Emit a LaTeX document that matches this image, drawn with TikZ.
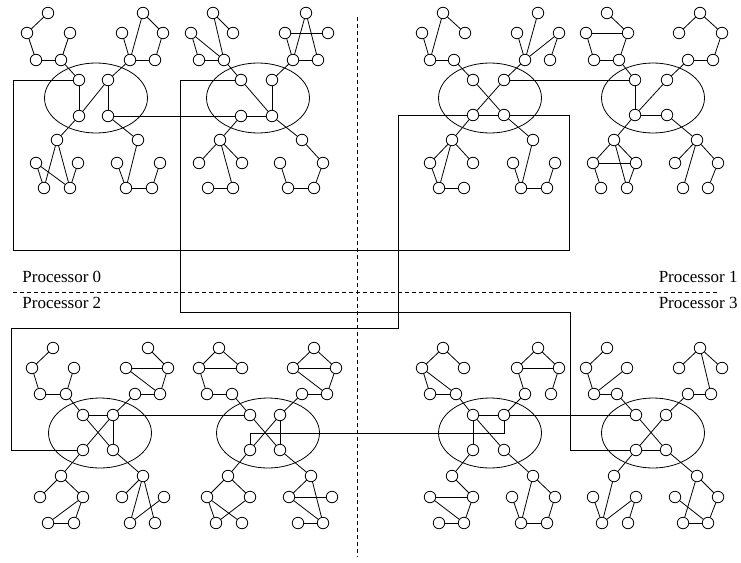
\documentclass[tikz,border=0pt]{standalone}
\usepackage{fontspec}
\setmainfont{Liberation Serif}
\usetikzlibrary{shapes.geometric}
\newcommand{\vx}[2]{\node[vtx] (#1) at (#2) {};}
\begin{document}
\begin{tikzpicture}[x=1pt,y=-1pt,line width=0.8pt,
  vtx/.style={circle,draw,fill=white,minimum size=11.5pt,inner sep=0pt},
  grp/.style={ellipse,draw,minimum width=103pt,minimum height=70pt,inner sep=0pt},
  sep/.style={dash pattern=on 4pt off 3pt},
  lbl/.style={font=\fontsize{17}{20}\selectfont,inner sep=0pt}]
\useasboundingbox (0,0) rectangle (741,562);
% ellipses
\node[grp] (e1) at (96,98) {};
\node[grp] (e2) at (258,98) {};
\node[grp] (e3) at (490,98) {};
\node[grp] (e4) at (653,98) {};
\node[grp] (e5) at (100,433) {};
\node[grp] (e6) at (268,433) {};
\node[grp] (e7) at (490,433) {};
\node[grp] (e8) at (653,433) {};
% ---------------- cluster 1
\vx{1A}{79,80}\vx{1B}{108,80}\vx{1C}{79,116}\vx{1D}{108,116}
\vx{1tl1}{48,13}\vx{1tl2}{27,33}\vx{1tl3}{70,33}\vx{1tl4}{36,60}\vx{1tl5}{61,60}
\vx{1tr1}{143,13}\vx{1tr2}{122,33}\vx{1tr3}{163,33}\vx{1tr4}{130,60}\vx{1tr5}{155,60}
\vx{1bl1}{57,140}\vx{1bl2}{36,163}\vx{1bl3}{78,163}\vx{1bl4}{44,188}\vx{1bl5}{70,188}
\vx{1br1}{138,140}\vx{1br2}{117,163}\vx{1br3}{160,163}\vx{1br4}{126,188}\vx{1br5}{152,188}
\foreach \a/\b in {1A/1C,1B/1C,1B/1D,
  1tl1/1tl2,1tl2/1tl4,1tl4/1tl5,1tl5/1tl3,1tl5/1A,
  1tr1/1tr4,1tr1/1tr3,1tr3/1tr5,1tr2/1tr4,1tr4/1tr5,1tr4/1B,
  1C/1bl1,1bl1/1bl4,1bl1/1bl5,1bl2/1bl4,1bl2/1bl5,1bl3/1bl5,
  1D/1br1,1br1/1br4,1br2/1br4,1br4/1br5,1br3/1br5}
  \draw (\a) -- (\b);
% ---------------- cluster 2
\vx{2A}{241,80}\vx{2B}{272,80}\vx{2C}{241,116}\vx{2D}{272,116}
\vx{2tl1}{213,13}\vx{2tl2}{191,33}\vx{2tl3}{233,33}\vx{2tl4}{199,60}\vx{2tl5}{224,60}
\vx{2tr1}{306,13}\vx{2tr2}{285,33}\vx{2tr3}{328,33}\vx{2tr4}{293,60}\vx{2tr5}{318,60}
\vx{2bl1}{220,140}\vx{2bl2}{199,163}\vx{2bl3}{242,163}\vx{2bl4}{208,188}\vx{2bl5}{233,188}
\vx{2br1}{302,140}\vx{2br2}{280,163}\vx{2br3}{323,163}\vx{2br4}{288,188}\vx{2br5}{314,188}
\foreach \a/\b in {2A/2D,2B/2D,2C/2D,
  2tl1/2tl3,2tl1/2tl5,2tl2/2tl5,2tl2/2tl4,2tl4/2tl5,2tl5/2A,
  2tr2/2tr3,2tr1/2tr4,2tr1/2tr5,2tr2/2tr4,2tr4/2tr5,2tr4/2B,
  2C/2bl1,2bl1/2bl2,2bl1/2bl3,2bl1/2bl5,2bl4/2bl5,
  2D/2br1,2br1/2br3,2br3/2br5,2br4/2br5,2br2/2br4}
  \draw (\a) -- (\b);
% ---------------- cluster 3
\vx{3A}{473,80}\vx{3B}{504,80}\vx{3C}{473,115}\vx{3D}{504,115}
\vx{3tl1}{443,13}\vx{3tl2}{422,33}\vx{3tl3}{465,33}\vx{3tl4}{430,60}\vx{3tl5}{454,60}
\vx{3tr1}{538,13}\vx{3tr2}{517,33}\vx{3tr3}{559,33}\vx{3tr4}{525,60}\vx{3tr5}{550,60}
\vx{3bl1}{452,140}\vx{3bl2}{430,163}\vx{3bl3}{473,163}\vx{3bl4}{439,188}\vx{3bl5}{464,188}
\vx{3br1}{533,140}\vx{3br2}{513,163}\vx{3br3}{555,163}\vx{3br4}{521,188}\vx{3br5}{547,188}
\foreach \a/\b in {3A/3D,3B/3C,3C/3D,
  3tl1/3tl3,3tl1/3tl4,3tl2/3tl4,3tl4/3tl5,3tl5/3A,
  3tr1/3tr4,3tr2/3tr4,3tr4/3tr3,3tr3/3tr5,3tr4/3B,
  3C/3bl1,3bl1/3bl2,3bl1/3bl3,3bl1/3bl4,3bl2/3bl4,3bl4/3bl5,
  3D/3br1,3br1/3br4,3br2/3br4,3br4/3br5,3br3/3br5}
  \draw (\a) -- (\b);
% ---------------- cluster 4
\vx{4A}{635,80}\vx{4B}{667,80}\vx{4C}{635,115}\vx{4D}{667,115}
\vx{4tl1}{607,13}\vx{4tl2}{586,33}\vx{4tl3}{628,33}\vx{4tl4}{594,60}\vx{4tl5}{619,60}
\vx{4tr1}{700,13}\vx{4tr2}{679,33}\vx{4tr3}{722,33}\vx{4tr4}{688,60}\vx{4tr5}{713,60}
\vx{4bl1}{614,140}\vx{4bl2}{593,163}\vx{4bl3}{636,163}\vx{4bl4}{601,188}\vx{4bl5}{627,188}
\vx{4br1}{697,140}\vx{4br2}{675,163}\vx{4br3}{718,163}\vx{4br4}{683,188}\vx{4br5}{708,188}
\foreach \a/\b in {4A/4C,4B/4C,4C/4D,
  4tl1/4tl3,4tl2/4tl3,4tl2/4tl4,4tl4/4tl5,4tl3/4tl5,4tl5/4A,
  4tr1/4tr2,4tr1/4tr3,4tr3/4tr5,4tr4/4tr5,4tr4/4B,
  4C/4bl1,4bl1/4bl2,4bl1/4bl3,4bl2/4bl3,4bl1/4bl5,4bl2/4bl4,4bl3/4bl5,
  4D/4br1,4br1/4br2,4br1/4br3,4br1/4br4,4br3/4br5}
  \draw (\a) -- (\b);
% ---------------- cluster 5
\vx{5A}{83,415}\vx{5B}{113,415}\vx{5C}{83,450}\vx{5D}{113,450}
\vx{5tl1}{53,348}\vx{5tl2}{32,368}\vx{5tl3}{74,368}\vx{5tl4}{40,394}\vx{5tl5}{66,394}
\vx{5tr1}{148,348}\vx{5tr2}{126,368}\vx{5tr3}{168,368}\vx{5tr4}{135,394}\vx{5tr5}{160,394}
\vx{5bl1}{61,476}\vx{5bl2}{40,497}\vx{5bl3}{83,497}\vx{5bl4}{48,523}\vx{5bl5}{74,523}
\vx{5br1}{143,476}\vx{5br2}{122,497}\vx{5br3}{164,497}\vx{5br4}{130,523}\vx{5br5}{155,523}
\foreach \a/\b in {5A/5B,5A/5D,5B/5C,5B/5D,
  5tl1/5tl2,5tl2/5tl4,5tl4/5tl5,5tl5/5tl3,5tl5/5A,
  5tr1/5tr3,5tr2/5tr3,5tr2/5tr5,5tr3/5tr5,5tr4/5tr5,5tr4/5B,
  5C/5bl1,5bl1/5bl2,5bl1/5bl3,5bl3/5bl4,5bl3/5bl5,5bl4/5bl5,
  5D/5br1,5br1/5br2,5br1/5br4,5br1/5br5,5br4/5br3}
  \draw (\a) -- (\b);
% ---------------- cluster 6
\vx{6A}{250,415}\vx{6B}{280,415}\vx{6C}{250,450}\vx{6D}{280,450}
\vx{6tl1}{219,348}\vx{6tl2}{199,368}\vx{6tl3}{242,368}\vx{6tl4}{207,394}\vx{6tl5}{232,394}
\vx{6tr1}{314,348}\vx{6tr2}{293,368}\vx{6tr3}{336,368}\vx{6tr4}{302,394}\vx{6tr5}{327,394}
\vx{6bl1}{228,476}\vx{6bl2}{207,497}\vx{6bl3}{250,497}\vx{6bl4}{216,523}\vx{6bl5}{242,523}
\vx{6br1}{311,476}\vx{6br2}{289,497}\vx{6br3}{332,497}\vx{6br4}{298,523}\vx{6br5}{323,523}
\foreach \a/\b in {6A/6D,6B/6C,6B/6D,
  6tl1/6tl2,6tl1/6tl3,6tl2/6tl3,6tl2/6tl4,6tl4/6tl5,6tl5/6A,
  6tr1/6tr2,6tr1/6tr3,6tr2/6tr3,6tr2/6tr5,6tr3/6tr5,6tr4/6tr5,6tr4/6B,
  6C/6bl1,6bl1/6bl2,6bl1/6bl3,6bl2/6bl4,6bl2/6bl5,6bl3/6bl4,
  6D/6br1,6br1/6br2,6br1/6br5,6br2/6br3,6br2/6br5,6br4/6br5}
  \draw (\a) -- (\b);
% ---------------- cluster 7
\vx{7A}{473,415}\vx{7B}{504,415}\vx{7C}{473,450}\vx{7D}{504,450}
\vx{7tl1}{443,348}\vx{7tl2}{422,368}\vx{7tl3}{464,368}\vx{7tl4}{430,394}\vx{7tl5}{456,394}
\vx{7tr1}{538,348}\vx{7tr2}{517,368}\vx{7tr3}{559,368}\vx{7tr4}{525,394}\vx{7tr5}{551,394}
\vx{7bl1}{452,476}\vx{7bl2}{430,497}\vx{7bl3}{473,497}\vx{7bl4}{439,523}\vx{7bl5}{464,523}
\vx{7br1}{533,476}\vx{7br2}{512,497}\vx{7br3}{555,497}\vx{7br4}{521,523}\vx{7br5}{547,523}
\foreach \a/\b in {7A/7B,7A/7C,7A/7D,
  7tl1/7tl2,7tl1/7tl3,7tl2/7tl4,7tl2/7tl5,7tl4/7tl5,7tl5/7A,
  7tr1/7tr2,7tr1/7tr3,7tr2/7tr3,7tr2/7tr4,7tr3/7tr5,7tr4/7B,
  7C/7bl1,7bl1/7bl3,7bl2/7bl3,7bl2/7bl5,7bl3/7bl5,7bl4/7bl5,
  7D/7br1,7br1/7br4,7br1/7br3,7br3/7br5,7br4/7br5,7br2/7br4}
  \draw (\a) -- (\b);
% ---------------- cluster 8
\vx{8A}{636,415}\vx{8B}{666,415}\vx{8C}{636,450}\vx{8D}{666,450}
\vx{8tl1}{607,348}\vx{8tl2}{586,368}\vx{8tl3}{627,368}\vx{8tl4}{594,394}\vx{8tl5}{617,394}
\vx{8tr1}{700,348}\vx{8tr2}{679,368}\vx{8tr3}{722,368}\vx{8tr4}{688,394}\vx{8tr5}{711,394}
\vx{8bl1}{614,476}\vx{8bl2}{593,497}\vx{8bl3}{636,497}\vx{8bl4}{602,523}\vx{8bl5}{628,523}
\vx{8br1}{697,476}\vx{8br2}{675,497}\vx{8br3}{718,497}\vx{8br4}{683,523}\vx{8br5}{708,523}
\foreach \a/\b in {8A/8D,8B/8C,8C/8D,
  8tl1/8tl2,8tl2/8tl4,8tl4/8tl3,8tl4/8tl5,8tl5/8A,
  8tr1/8tr2,8tr1/8tr3,8tr1/8tr5,8tr4/8tr5,8tr4/8B,
  8C/8bl1,8bl1/8bl4,8bl2/8bl4,8bl4/8bl3,8bl3/8bl5,
  8D/8br1,8br1/8br3,8br1/8br4,8br2/8br5,8br4/8br5,8br3/8br5}
  \draw (\a) -- (\b);
% ---------------- links between clusters
\draw (1D) -- (2C);
\draw (3B) -- (4A);
\draw (5B) -- (6A);
\draw (7B) -- (8A);
\coordinate (w1) at (13,250); \coordinate (w2) at (569,250);
\draw (1A) -| (w1) -- (w2) |- (3D);
\coordinate (x1) at (398,328); \coordinate (x2) at (11,328);
\draw (3C) -| (x1) -- (x2) |- (5C);
\coordinate (y1) at (180,312); \coordinate (y2) at (570,312);
\draw (2A) -| (y1) -- (y2) |- (8C);
\coordinate (z1) at (504,433);
\draw (6C) |- (z1) -- (7B);
% ---------------- processor separators
\coordinate (h1) at (13,292); \coordinate (h2) at (717,292);
\coordinate (v1) at (357,17); \coordinate (v2) at (357,557);
\draw[sep] (h1) -- (h2);
\draw[sep] (v1) -- (v2);
\node[lbl,anchor=base west] (p0) at (22,282) {Processor 0};
\node[lbl,anchor=base east] (p1) at (738,282) {Processor 1};
\node[lbl,anchor=base west] (p2) at (22,308) {Processor 2};
\node[lbl,anchor=base east] (p3) at (738,308) {Processor 3};
\end{tikzpicture}
\end{document}
